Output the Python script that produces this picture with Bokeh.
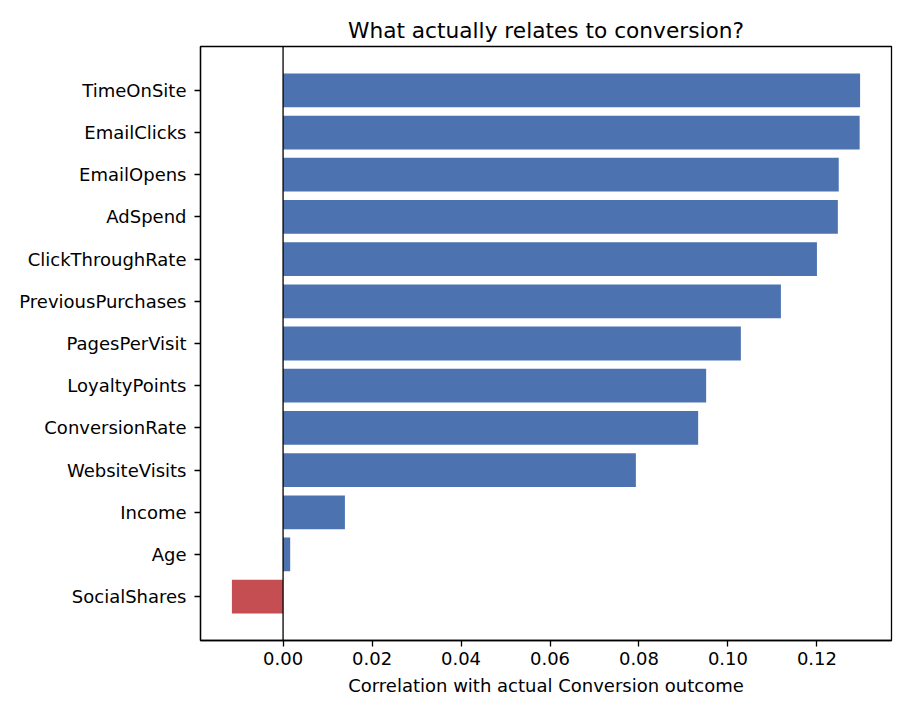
from bokeh.plotting import figure
from bokeh.models import Range1d, FactorRange, Span, SingleIntervalTicker, NumeralTickFormatter
from bokeh.embed import file_html
from bokeh.resources import INLINE

# correlation of each feature with the conversion outcome, top of chart first
features = ['TimeOnSite', 'EmailClicks', 'EmailOpens', 'AdSpend', 'ClickThroughRate',
            'PreviousPurchases', 'PagesPerVisit', 'LoyaltyPoints', 'ConversionRate',
            'WebsiteVisits', 'Income', 'Age', 'SocialShares']
correlations = [0.1297, 0.1296, 0.1249, 0.1247, 0.1200,
                0.1119, 0.1029, 0.0951, 0.0933,
                0.0793, 0.0139, 0.0016, -0.0115]

BLUE = '#4c72b0'
RED = '#c44e52'
FONT = 'DejaVu Sans'


def correlation_plot():
    factors = features[::-1]
    vals = correlations[::-1]
    colors = [BLUE if v >= 0 else RED for v in vals]

    lo, hi = min(vals), max(vals)
    pad = 0.05 * (hi - lo)

    p = figure(width=902, height=707,
               y_range=FactorRange(*factors, range_padding=0.083),
               x_range=Range1d(lo - pad, hi + pad),
               title='What actually relates to conversion?',
               x_axis_label='Correlation with actual Conversion outcome',
               toolbar_location=None, output_backend='svg')
    p.min_border_left = 200
    p.min_border_right = 11
    p.min_border_top = 46
    p.min_border_bottom = 67

    p.hbar(y=factors, right=vals, left=0, height=0.8, color=colors, line_color=None)
    p.add_layout(Span(location=0, dimension='height', line_color='black', line_width=1.3))

    p.title.align = 'center'
    p.title.text_font = FONT
    p.title.text_font_style = 'normal'
    p.title.text_font_size = '21.7px'
    p.title.text_color = 'black'
    p.title.standoff = 8

    p.xgrid.grid_line_color = None
    p.ygrid.grid_line_color = None
    p.outline_line_color = 'black'
    p.outline_line_width = 1.3

    p.xaxis.ticker = SingleIntervalTicker(interval=0.02)
    p.xaxis.formatter = NumeralTickFormatter(format='0.00')
    for ax in (p.xaxis[0], p.yaxis[0]):
        ax.axis_line_color = 'black'
        ax.axis_line_width = 1.3
        ax.major_tick_line_color = 'black'
        ax.major_tick_line_width = 1.3
        ax.major_tick_in = 0
        ax.major_tick_out = 6
        ax.minor_tick_line_color = None
        ax.major_label_text_font = FONT
        ax.major_label_text_font_size = '18px'
        ax.major_label_text_color = 'black'
        ax.axis_label_text_font = FONT
        ax.axis_label_text_font_size = '18px'
        ax.axis_label_text_font_style = 'normal'
        ax.axis_label_text_color = 'black'
    p.xaxis.major_label_standoff = 5
    p.xaxis.axis_label_standoff = 7
    p.yaxis.major_label_standoff = 8
    return p


if __name__ == '__main__':
    p = correlation_plot()
    open('out.html', 'w').write(file_html(p, INLINE))
